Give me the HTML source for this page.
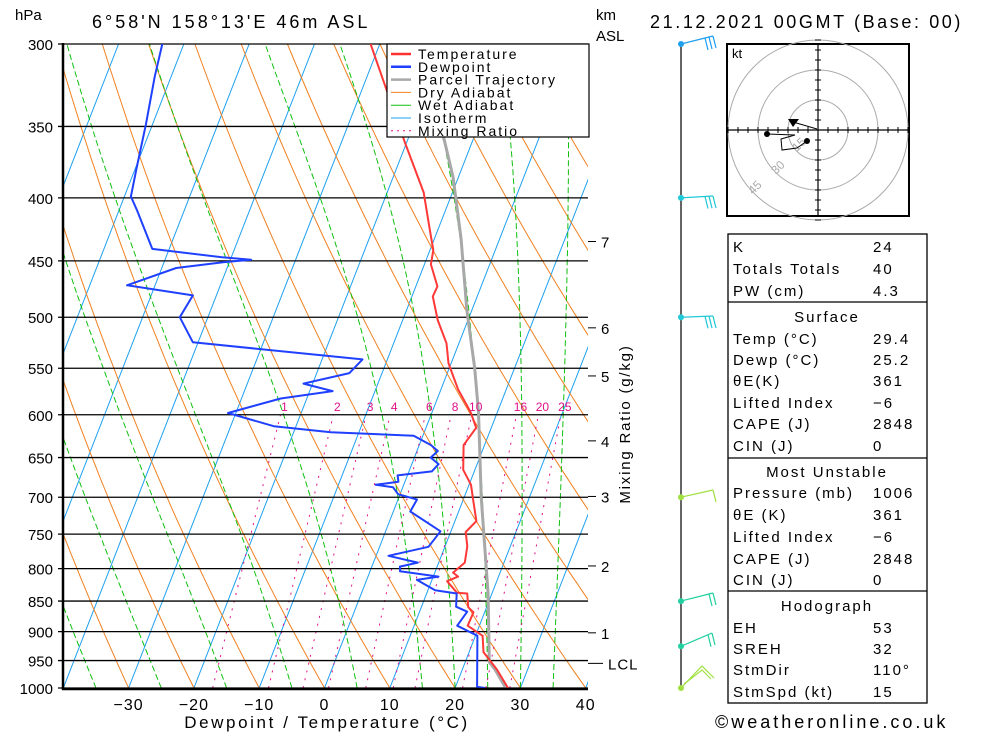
<!DOCTYPE html>
<html><head><meta charset="utf-8"><style>
html,body{margin:0;padding:0;background:#fff;}
svg{display:block;font-family:"Liberation Sans",sans-serif;}
text{fill:#000;}
</style></head><body>
<svg id="chart" width="1000" height="733" viewBox="0 0 1000 733" xmlns="http://www.w3.org/2000/svg">
<defs><clipPath id="plotclip"><rect x="63" y="44" width="525" height="644"/></clipPath></defs>
<rect x="0" y="0" width="1000" height="733" fill="#fff"/>
<g id="bg" clip-path="url(#plotclip)"></g>
<g id="isobars"></g>
<g id="curves" clip-path="url(#plotclip)"></g>
<g id="axes"></g>
<text x="15" y="20" font-size="15">hPa</text>
<text x="92" y="28" font-size="18" letter-spacing="3">6°58'N  158°13'E  46m  ASL</text>
<text x="650" y="28" font-size="18" letter-spacing="2.6">21.12.2021  00GMT (Base: 00)</text>
<text x="596" y="20" font-size="15">km</text>
<text x="596" y="41" font-size="15">ASL</text>
<text x="327" y="728" font-size="17" text-anchor="middle" letter-spacing="2.6">Dewpoint / Temperature (°C)</text>
<text transform="translate(630,424) rotate(-90)" font-size="15" text-anchor="middle" letter-spacing="1.8">Mixing Ratio (g/kg)</text>
<g id="legend"></g>
<g id="winds"></g>
<g id="hodo"></g>
<g id="table"></g>
<text x="715" y="728" font-size="18" letter-spacing="3">©weatheronline.co.uk</text>
</svg>
<script>
// ---- data ----
const pressureLevels=[300,350,400,450,500,550,600,650,700,750,800,850,900,950,1000];
const tempTicks=[-30,-20,-10,0,10,20,30,40];
const mixingRatios=[1,2,3,4,6,8,10,16,20,25];
const kmHeights=[1,2,3,4,5,6,7];
const kmPressures=[902,796,699,630,558,510,434];
const tempP=[300,319,361,396,425,441,453,472,481,503,525,545,572,597,615,619,635,665,684,703,732,747,767,791,806,812,819,837,838,860,868,890,907,935,966,1000];
const tempT=[-31.4,-27.7,-20.2,-14.4,-11.2,-9.5,-9.0,-6.7,-6.8,-4.6,-1.9,-0.4,2.6,5.9,7.7,7.5,6.8,8.2,10.3,11.5,13.3,12.3,13.4,14.0,12.8,13.8,12.4,14.6,16.2,17.2,18.3,18.2,21.1,22.2,25.3,28.1];
const dewP=[300,319,349,379,399,409,440,447,449,451,456,471,480,500,524,541,555,566,574,582,598,613,620,624,635,642,650,658,667,672,680,684,687,696,703,719,746,768,781,791,797,804,812,817,833,838,859,867,890,907,998,1000];
const dewT=[-63.3,-62.5,-61.0,-59.8,-59.0,-57.3,-52.6,-41.4,-36.8,-40.8,-47.8,-54.3,-43.6,-44.3,-40.8,-13.8,-15.0,-21.4,-16.5,-24.0,-31.2,-23.4,-14.3,-1.4,1.8,3.2,2.5,4.1,3.5,-1.5,-1.0,-4.3,-1.5,-0.3,2.9,2.6,8.4,7.5,1.9,6.8,4.3,4.6,10.8,7.7,11.1,14.6,15.3,17.3,16.6,20.3,23.3,24.6];
const parcelP=[345,361,385,432,493,550,597,700,838,953,966,998];
const parcelT=[-16.5,-14.1,-10.8,-5.9,-0.8,3.9,7.1,12.6,19.4,23.7,25.0,27.6];
const lclP=955;

// ---- axis functions ----
const X0=324.5, DX=6.53, YB=688, YT=44, SKEW=0.39;
const K=Math.log(1000/300)/(YB-YT);
function yP(p){return YT+Math.log(p/300)/K;}
function xT(t,p){return X0+DX*t+SKEW*(YB-yP(p));}
const NS="http://www.w3.org/2000/svg";
function mk(tag,parent,attrs){const e=document.createElementNS(NS,tag);for(const k in attrs)e.setAttribute(k,attrs[k]);parent.appendChild(e);return e;}
function pts(arr){return arr.map(a=>a[0].toFixed(1)+","+a[1].toFixed(1)).join(" ");}

const bg=document.getElementById('bg');
for(let t=-130;t<=40;t+=10){
  const l=mk('line',bg,{x1:xT(t,1000),y1:yP(1000),x2:xT(t,300),y2:yP(300),stroke:'#1ea0f0','stroke-width':1});
  
  
}
for(let tc=-60;tc<=200;tc+=10){
  const th=tc+273.15;const a=[];
  for(let p=1000;p>=295;p-=10){a.push([xT(th*Math.pow(p/1000,0.286)-273.15,p),yP(p)]);}
  const l=mk('polyline',bg,{points:pts(a),fill:'none',stroke:'#f08020','stroke-width':1});
  
  
}
function es(tc){return 6.112*Math.exp(17.67*tc/(tc+243.5));}
const wetStarts=[-45,-35,-25,-15,-5,5,15,20,25,30,35];
wetStarts.forEach(t0=>{
  let T=t0+273.15;const a=[];
  for(let p=1000;p>=295;p-=5){
    a.push([xT(T-273.15,p),yP(p)]);
    const e=es(T-273.15),rs=0.622*e/(p-e);
    const g=(287*T+2.5e6*rs)/(p*(1004+2.5e6*2.5e6*rs*0.622/(287*T*T)));
    T-=g*5;
  }
  const l=mk('polyline',bg,{points:pts(a),fill:'none',stroke:'#10c010','stroke-width':1,'stroke-dasharray':'6,3'});
  
  
});
function tdFromW(w,p){const e=w*p/(622+w);const l=Math.log(e/6.112);return 243.5*l/(17.67-l);}
mixingRatios.forEach(w=>{
  const l=mk('line',bg,{x1:xT(tdFromW(w,1000),1000),y1:yP(1000),x2:xT(tdFromW(w,600),600),y2:yP(600),stroke:'#e0108a','stroke-width':1,'stroke-dasharray':'2,6'});
  
  
  const t=mk('text',document.getElementById('axes'),{x:xT(tdFromW(w,600),600)+4,y:yP(600)-4,'font-size':12,'text-anchor':'middle',style:'fill:#e0108a'});
  t.textContent=w;
  
  
});

const iso=document.getElementById('isobars'), axes=document.getElementById('axes');
pressureLevels.forEach(p=>{
  const y=yP(p);
  const l=mk('line',iso,{x1:58,y1:y,x2:588,y2:y,stroke:'#000','stroke-width':1.3});
  
  
  const t=mk('text',axes,{x:53,y:y+6,'font-size':15,'text-anchor':'end'});
  t.textContent=p;
  
  
});
const la=mk('line',axes,{x1:63,y1:43,x2:63,y2:690,stroke:'#000','stroke-width':2.5});


const ba=mk('line',axes,{x1:62,y1:689,x2:588,y2:689,stroke:'#000','stroke-width':2.5});


tempTicks.forEach(t=>{
  const tx=mk('text',axes,{x:xT(t,1000),y:710,'font-size':16,'text-anchor':'middle','letter-spacing':1});
  tx.textContent=(t<0?'\u2212'+(-t):t);
  
  
});
kmHeights.forEach((h,i)=>{
  const y=yP(kmPressures[i]);
  const tk=mk('line',axes,{x1:588,y1:y,x2:596,y2:y,stroke:'#000','stroke-width':1});
  
  
  const t=mk('text',axes,{x:601,y:y+6,'font-size':15});
  t.textContent=h;
  
  
});
{const y=yP(lclP);
const tk=mk('line',axes,{x1:588,y1:y,x2:603,y2:y,stroke:'#000','stroke-width':1});


const t=mk('text',axes,{x:608,y:y+6,'font-size':15,'letter-spacing':1});t.textContent='LCL';

}

const cv=document.getElementById('curves');
function series(P,T,color,w,name){
  const a=P.map((p,i)=>[xT(T[i],p),yP(p)]);
  const l=mk('polyline',cv,{points:pts(a),fill:'none',stroke:color,'stroke-width':w,'stroke-linejoin':'round'});
  
  
}
series(parcelP,parcelT,'#a8a8a8',3,'parcel-trajectory-line');
series(tempP,tempT,'#ff3838',2,'temperature-line');
series(dewP,dewT,'#2040ff',2,'dewpoint-line');

const lg=document.getElementById('legend');
mk('rect',lg,{x:387,y:44,width:202,height:93,fill:'#fff',stroke:'#000','stroke-width':1.2});
const legItems=[['Temperature','#ff3030',2.5,''],['Dewpoint','#2040ff',2.5,''],['Parcel Trajectory','#a8a8a8',2.5,''],['Dry Adiabat','#f08020',1,''],['Wet Adiabat','#10c010',1,''],['Isotherm','#1ea0f0',1,''],['Mixing Ratio','#e0108a',1,'2,4']];
legItems.forEach((it,i)=>{
  const y=54+i*12.8;
  const s=mk('line',lg,{x1:391,y1:y,x2:411,y2:y,stroke:it[1],'stroke-width':it[2],'stroke-dasharray':it[3]||'none'});
  
  
  const t=mk('text',lg,{x:418,y:y+5,'font-size':14,'letter-spacing':2});
  t.textContent=it[0];
  
  
});

const wd=document.getElementById('winds');
const wl=mk('line',wd,{x1:681,y1:44,x2:681,y2:690,stroke:'#000','stroke-width':1.2});


const windP=[300,400,500,700,850,925,1000];
const windColors=['#1ea0f0','#20c8d8','#20c8d8','#a0e040','#20d0a0','#20d0a0','#a0e040'];
const windEnds=[[713,36],[713,196],[713,316],[713,490],[713,593],[712,633],[702,668]];
windP.forEach((p,i)=>{
  const y=yP(p),c=windColors[i],e=windEnds[i];
  const g=mk('g',wd,{});
  
  
  mk('circle',g,{cx:681,cy:y,r:3,fill:c});
  if(i===6){
    mk('polyline',g,{points:`681,${y} 702,${y-22} 714,${y-10}`,fill:'none',stroke:c,'stroke-width':1.2});
    mk('polyline',g,{points:`684,${y-4} 702,${y-18} 711,${y-9}`,fill:'none',stroke:c,'stroke-width':1.2});
    return;
  }
  mk('line',g,{x1:681,y1:y,x2:e[0],y2:e[1],stroke:c,'stroke-width':1.2});
  const n=i===3?1:(i>=4?2:3);
  for(let k=0;k<n;k++){const bx=e[0]-k*4;const by=e[1]+(y-e[1])*(k*4)/(e[0]-681);
    mk('line',g,{x1:bx,y1:by,x2:bx+3,y2:by+12,stroke:c,'stroke-width':1.2});}
});

const hd=document.getElementById('hodo');
const hcx=818,hcy=130;
mk('rect',hd,{x:727,y:44,width:182,height:172,fill:'#fff',stroke:'#000','stroke-width':2});
[30,60,90].forEach(r=>mk('circle',hd,{cx:hcx,cy:hcy,r:r,fill:'none',stroke:'#aaa','stroke-width':1}));
mk('line',hd,{x1:727,y1:hcy,x2:909,y2:hcy,stroke:'#000','stroke-width':1.2});
mk('line',hd,{x1:hcx,y1:44,x2:hcx,y2:216,stroke:'#000','stroke-width':1.2});
for(let d=-90;d<=90;d+=10){if(d===0)continue;
  mk('line',hd,{x1:hcx+d,y1:hcy-3,x2:hcx+d,y2:hcy+3,stroke:'#000'});
  mk('line',hd,{x1:hcx-3,y1:hcy+d,x2:hcx+3,y2:hcy+d,stroke:'#000'});}
[['15',797,152],['30',776,175],['45',753,195]].forEach(a=>{const t=mk('text',hd,{x:a[1],y:a[2],'font-size':12,transform:`rotate(-45 ${a[1]} ${a[2]})`,style:'fill:#aaa'});t.textContent=a[0];});
const hk=mk('text',hd,{x:732,y:58,'font-size':13});hk.textContent='kt';
mk('polyline',hd,{points:'807,141 797,148 782,150 781,139 795,135 767,134',fill:'none',stroke:'#000','stroke-width':1});
mk('circle',hd,{cx:807,cy:141,r:3,fill:'#000'});
mk('circle',hd,{cx:767,cy:134,r:3,fill:'#000'});
mk('line',hd,{x1:793,y1:122,x2:817,y2:129,stroke:'#000','stroke-width':1});
mk('polygon',hd,{points:'788,119 799,119 793,127',fill:'#000'});

const tb=document.getElementById('table');
mk('rect',tb,{x:728,y:234,width:199,height:469,fill:'none',stroke:'#000','stroke-width':1.3});
[302,458,591].forEach(y=>mk('line',tb,{x1:728,y1:y,x2:927,y2:y,stroke:'#000','stroke-width':1.3}));
const rows=[['K','24',246],['Totals Totals','40',268],['PW (cm)','4.3',290],['Surface','',316,1],['Temp (°C)','29.4',338],['Dewp (°C)','25.2',359],['θE(K)','361',380],['Lifted Index','\u22126',402],['CAPE (J)','2848',423],['CIN (J)','0',445],['Most Unstable','',471,1],['Pressure (mb)','1006',492],['θE (K)','361',514],['Lifted Index','\u22126',536],['CAPE (J)','2848',558],['CIN (J)','0',579],['Hodograph','',605,1],['EH','53',627],['SREH','32',648],['StmDir','110°',669],['StmSpd (kt)','15',691]];
rows.forEach(r=>{
  const t=mk('text',tb,{x:r[3]?827:733,y:r[2]+6,'font-size':15,'letter-spacing':2,'text-anchor':r[3]?'middle':'start'});
  t.textContent=r[0];
  
  
  if(r[1]){const v=mk('text',tb,{x:873,y:r[2]+6,'font-size':15,'letter-spacing':2});v.textContent=r[1];
  
  }
});
</script>
</body></html>
